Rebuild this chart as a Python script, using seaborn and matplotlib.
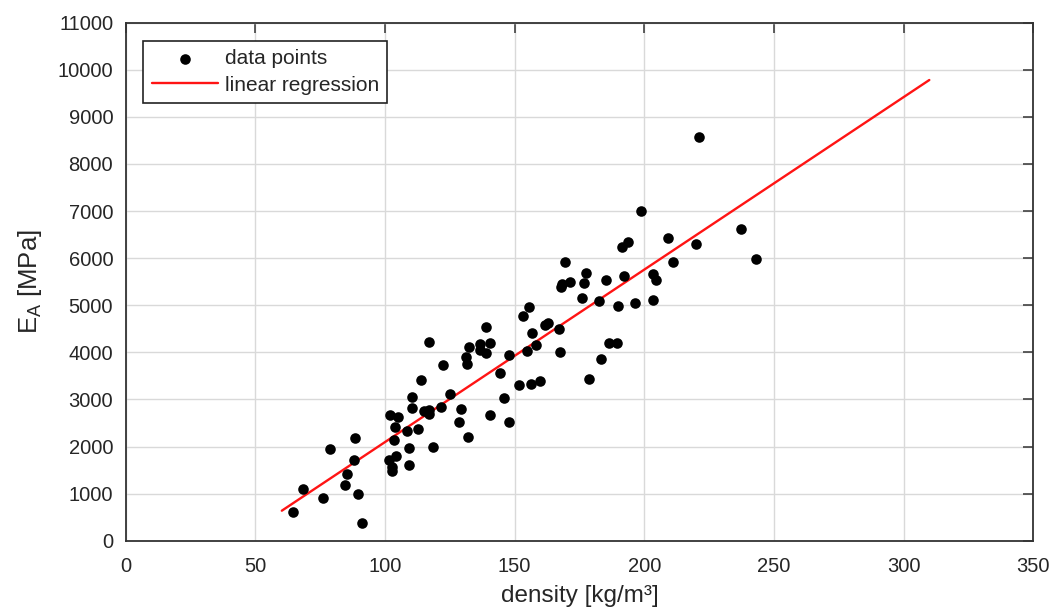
import matplotlib
matplotlib.use("Agg")
import matplotlib.pyplot as plt
import seaborn as sns
import pandas as pd

# ---- data ----
density = [64.7, 68.3, 76.0, 78.8, 84.7, 85.5, 88.3, 88.1, 89.4, 91.2,
           101.8, 104.9, 103.8, 103.5, 101.7, 104.2, 102.8, 102.8, 108.3, 109.4,
           109.1, 110.5, 110.5, 112.9, 113.8, 115.0, 116.9, 117.0, 116.8, 118.6,
           121.4, 122.4, 125.0, 129.4, 128.6, 131.9, 131.4, 131.5, 132.4, 136.5,
           136.5, 139.1, 140.6, 139.1, 140.3, 144.2, 146.0, 147.8, 148.0, 151.5,
           156.4, 159.9, 154.7, 158.1, 156.5, 161.8,
           198.8, 191.4, 193.7, 209.1, 219.9, 210.9, 203.5, 204.5, 203.2, 196.4,
           192.2, 189.9, 185.4, 182.7, 177.6, 176.8, 175.9, 169.5, 168.1, 167.8,
           171.2, 186.4, 189.5, 183.3, 178.8, 167.6, 167.0, 162.7, 153.2, 155.5,
           221.2, 237.3, 242.9]
E_A = [599, 1093, 909, 1943, 1185, 1418, 2183, 1724, 1002, 378,
       2679, 2629, 2416, 2149, 1709, 1800, 1567, 1482, 2331, 1979,
       1618, 3053, 2813, 2382, 3408, 2756, 2771, 2700, 4214, 1985,
       2841, 3741, 3110, 2792, 2522, 2197, 3903, 3747, 4115, 4172,
       4060, 3996, 4208, 4540, 2679, 3571, 3040, 2531, 3945, 3308,
       3323, 3401, 4023, 4166, 4420, 4582,
       7010, 6238, 6338, 6437, 6310, 5913, 5673, 5546, 5113, 5057,
       5616, 4985, 5546, 5091, 5686, 5474, 5163, 5913, 5461, 5389,
       5488, 4200, 4200, 3860, 3444, 4009, 4497, 4633, 4781, 4958,
       8567, 6620, 5983]
reg_x = [60.2, 309.9]
reg_y = [637, 9783]
x_ticks = [0, 50, 100, 150, 200, 250, 300, 350]
y_ticks = [0, 1000, 2000, 3000, 4000, 5000, 6000, 7000, 8000, 9000, 10000, 11000]

pts = pd.DataFrame({"density": density, "E_A": E_A})
reg = pd.DataFrame({"density": reg_x, "E_A": reg_y})

sns.set_theme(style="white")
txt = "#262626"
plt.rcParams["font.family"] = ["Liberation Sans", "DejaVu Sans"]
plt.rcParams["mathtext.default"] = "regular"
plt.rcParams.update({
    "text.color": txt, "axes.labelcolor": txt,
    "xtick.color": txt, "ytick.color": txt,
})

fig = plt.figure(figsize=(10.51, 6.08), dpi=100)
ax = fig.add_axes([125.7 / 1051, (608 - 540.7) / 608, 907.6 / 1051, 518 / 608])

sns.scatterplot(data=pts, x="density", y="E_A", ax=ax, color="black",
                s=58, linewidth=0, label="data points", zorder=3)
sns.lineplot(data=reg, x="density", y="E_A", ax=ax, color="#ff1414",
             linewidth=1.7, label="linear regression", zorder=2)

ax.set_xlim(0, 350)
ax.set_ylim(0, 11000)
ax.set_xticks(x_ticks)
ax.set_yticks(y_ticks)
ax.set_xticklabels([str(t) for t in x_ticks])
ax.set_yticklabels([str(t) for t in y_ticks])
ax.grid(True, color="#d9d9d9", linewidth=1.0)
ax.set_axisbelow(True)
for sp in ax.spines.values():
    sp.set_visible(True)
    sp.set_color("#333333")
    sp.set_linewidth(1.3)
ax.tick_params(axis="both", direction="in", top=True, right=True,
               length=7, width=1.1, color="#333333", labelsize=14.5)
ax.tick_params(axis="x", pad=12)
ax.tick_params(axis="y", pad=9)

ax.set_xlabel("density [kg/m³]", fontsize=17.5, labelpad=6)
ax.set_ylabel("$E_A$ [MPa]", fontsize=18.5, labelpad=10)

leg = ax.legend(loc="upper left", bbox_to_anchor=(0.0194, 0.9647),
                borderaxespad=0, fancybox=False, frameon=True,
                edgecolor="#222222", fontsize=15, handlelength=3.2,
                handletextpad=0.3, borderpad=0.4, labelspacing=0.35,
                markerscale=1.0)
leg.get_frame().set_linewidth(1.2)
leg.get_frame().set_alpha(1)

fig.savefig("out.png", dpi=100)
